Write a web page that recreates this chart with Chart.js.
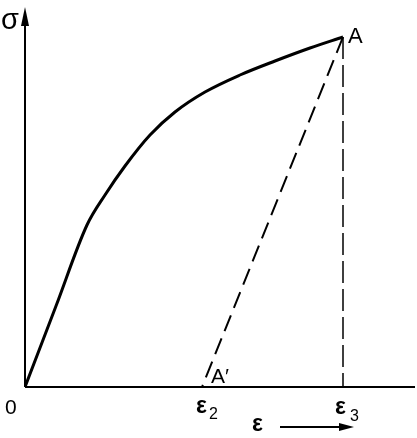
<!DOCTYPE html>
<html><head><meta charset="utf-8">
<script src="https://cdn.jsdelivr.net/npm/chart.js@4.4.0/dist/chart.umd.min.js"></script>
<style>html,body{margin:0;padding:0;background:#fff}#w{width:417px;height:438px}</style>
</head><body><div id="w"><canvas id="c"></canvas></div>
<script>
// strain (x) and stress (y) in arbitrary units
const curveStrain = [0, 31, 62, 80, 100, 125, 150, 180, 215, 250, 285, 318];
const curveStress = [0, 81, 162, 192, 221, 252, 275, 295, 312, 326, 339, 350];
const unloadStrain = [318, 177];
const unloadStress = [350, 0];
const verticalStrain = [318, 318];
const verticalStress = [350, 0];
const eps2 = 177, eps3 = 318;
const xMax = 390, yMax = 380;

const pts = (xs, ys) => xs.map((x, i) => ({x, y: ys[i]}));
const SANS = '"Liberation Sans", Arial, sans-serif';

const overlay = {
  id: 'overlay',
  afterDraw(chart) {
    const {ctx} = chart;
    const xs = chart.scales.x, ys = chart.scales.y;
    const X = v => xs.getPixelForValue(v), Y = v => ys.getPixelForValue(v);
    ctx.save();
    ctx.strokeStyle = '#000'; ctx.fillStyle = '#000';
    ctx.lineWidth = 2;
    // axes
    ctx.beginPath();
    ctx.moveTo(X(0), Y(0)); ctx.lineTo(X(xMax), Y(0));
    ctx.moveTo(X(0), Y(0)); ctx.lineTo(X(0), Y(yMax) + 12);
    ctx.stroke();
    // y arrow head
    ctx.beginPath();
    ctx.moveTo(X(0), Y(yMax));
    ctx.lineTo(X(0) - 4, Y(yMax) + 19);
    ctx.lineTo(X(0) + 4, Y(yMax) + 19);
    ctx.closePath(); ctx.fill();
    // texts
    ctx.textBaseline = 'alphabetic';
    ctx.font = '29px ' + SANS;
    ctx.fillText('σ', 1, 29);
    ctx.font = '22px ' + SANS;
    ctx.fillText('A', X(eps3) + 5, 43);
    ctx.font = '21px ' + SANS;
    ctx.fillText('A\u2032', X(eps2) + 9, Y(0) - 4);
    ctx.fillText('0', 5, 414);
    ctx.font = 'bold 23px ' + SANS;
    ctx.fillText('ε', X(eps2) - 6, 413);
    ctx.fillText('ε', X(eps3) - 8, 414);
    ctx.fillText('ε', 252, 431);
    ctx.font = '16px ' + SANS;
    ctx.fillText('2', X(eps2) + 7, 419);
    ctx.fillText('3', X(eps3) + 7, 421);
    // epsilon arrow
    ctx.lineWidth = 2;
    ctx.beginPath(); ctx.moveTo(280, 427); ctx.lineTo(342, 427); ctx.stroke();
    ctx.beginPath(); ctx.moveTo(354, 427); ctx.lineTo(339, 423); ctx.lineTo(339, 431); ctx.closePath(); ctx.fill();
    ctx.restore();
  }
};

new Chart(document.getElementById('c'), {
  type: 'scatter',
  data: {
    datasets: [
      {data: pts(curveStrain, curveStress), showLine: true, borderColor: '#000', borderWidth: 3, pointRadius: 0, cubicInterpolationMode: 'monotone'},
      {data: pts(unloadStrain, unloadStress), showLine: true, borderColor: '#000', borderWidth: 2, borderDash: [17, 8], pointRadius: 0},
      {data: pts(verticalStrain, verticalStress), showLine: true, borderColor: '#000', borderWidth: 1.5, borderDash: [22, 6], pointRadius: 0}
    ]
  },
  options: {
    responsive: true, maintainAspectRatio: false, animation: false,
    layout: {padding: {left: 25, right: 2, top: 7, bottom: 51}},
    plugins: {legend: {display: false}, tooltip: {enabled: false}},
    scales: {
      x: {type: 'linear', min: 0, max: xMax, display: false},
      y: {type: 'linear', min: 0, max: yMax, display: false}
    }
  },
  plugins: [overlay]
});
</script></body></html>
